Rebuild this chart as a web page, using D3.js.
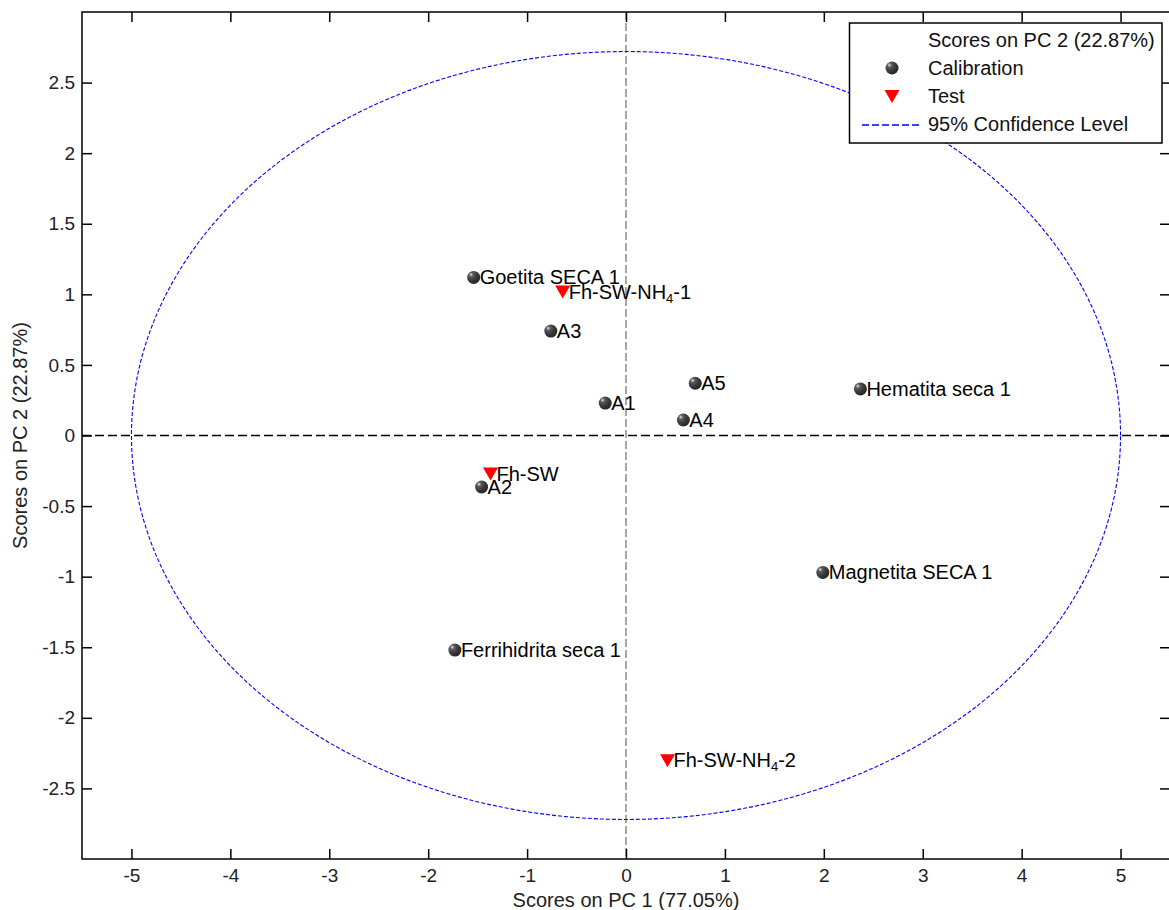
<!DOCTYPE html>
<html>
<head>
<meta charset="utf-8">
<script src="https://cdn.jsdelivr.net/npm/d3@7"></script>
<style>
  html, body { margin: 0; padding: 0; background: #fff; }
  svg { display: block; font-family: "Liberation Sans", Arial, sans-serif; }
</style>
</head>
<body>
<svg id="chart" width="1169" height="910"></svg>
<script>
// PCA scores: calibration samples
const calNames = ["Goetita SECA 1", "A3", "A1", "A5", "A4", "Hematita seca 1", "A2", "Magnetita SECA 1", "Ferrihidrita seca 1"];
const calPC1 = [-1.54, -0.76, -0.21, 0.70, 0.58, 2.37, -1.46, 1.99, -1.73];
const calPC2 = [1.12, 0.74, 0.23, 0.37, 0.11, 0.33, -0.365, -0.97, -1.52];

// PCA scores: test samples (label parts: [text, isSubscript])
const testNames = [
  [["Fh-SW-NH", false], ["4", true], ["-1", false]],
  [["Fh-SW", false]],
  [["Fh-SW-NH", false], ["4", true], ["-2", false]]
];
const testPC1 = [-0.64, -1.37, 0.42];
const testPC2 = [1.02, -0.27, -2.30];

// 95% confidence ellipse semi-axes
const ellipseAxes = [5.0, 2.72];

const xTicks = [-5, -4, -3, -2, -1, 0, 1, 2, 3, 4, 5];
const yTicks = [-2.5, -2, -1.5, -1, -0.5, 0, 0.5, 1, 1.5, 2, 2.5];
const xDomain = [-5.5, 5.5];
const yDomain = [-3, 3];

const xLabel = "Scores on PC 1 (77.05%)";
const yLabel = "Scores on PC 2 (22.87%)";
const legendItems = ["Scores on PC 2 (22.87%)", "Calibration", "Test", "95% Confidence Level"];

const svg = d3.select("#chart");
const pL = 82, pR = 1170, pT = 12, pB = 859;
const fontLabel = 20, fontTick = 19;

const x = d3.scaleLinear().domain(xDomain).range([pL, pR]);
const y = d3.scaleLinear().domain(yDomain).range([pB, pT]);

const defs = svg.append("defs");
const grad = defs.append("radialGradient").attr("id", "ball")
  .attr("cx", "30%").attr("cy", "28%").attr("r", "75%");
grad.append("stop").attr("offset", "0%").attr("stop-color", "#e6e6e6");
grad.append("stop").attr("offset", "22%").attr("stop-color", "#5c5c5c");
grad.append("stop").attr("offset", "60%").attr("stop-color", "#3a3a3a");
grad.append("stop").attr("offset", "100%").attr("stop-color", "#262626");

defs.append("clipPath").attr("id", "plotClip").append("rect")
  .attr("x", pL).attr("y", pT).attr("width", pR - pL).attr("height", pB - pT);

const plot = svg.append("g").attr("clip-path", "url(#plotClip)");

// zero reference lines
plot.append("line")
  .attr("x1", x(0)).attr("x2", x(0)).attr("y1", pT).attr("y2", pB)
  .attr("stroke", "#6e6e6e").attr("stroke-width", 1.2).attr("stroke-dasharray", "8,3");
plot.append("line")
  .attr("x1", pL).attr("x2", pR).attr("y1", y(0)).attr("y2", y(0))
  .attr("stroke", "#000").attr("stroke-width", 1.5).attr("stroke-dasharray", "9,4");

// confidence ellipse
const ellPts = d3.range(0, 361, 1).map(a => {
  const t = a * Math.PI / 180;
  return [ellipseAxes[0] * Math.cos(t), ellipseAxes[1] * Math.sin(t)];
});
plot.append("path")
  .attr("d", d3.line().x(d => x(d[0])).y(d => y(d[1]))(ellPts))
  .attr("fill", "none").attr("stroke", "#0000ff").attr("stroke-width", 1.1)
  .attr("stroke-dasharray", "4,2");

// axes frame with inward ticks on all sides
const tickLen = 10;
const fmt = d => String(d);   // plain hyphen-minus for negatives
svg.append("g").attr("transform", `translate(0,${pB})`)
  .call(d3.axisBottom(x).tickValues(xTicks).tickSizeInner(-tickLen).tickSizeOuter(0).tickPadding(10).tickFormat(fmt))
  .call(g => g.select(".domain").remove());
svg.append("g").attr("transform", `translate(0,${pT})`)
  .call(d3.axisTop(x).tickValues(xTicks).tickSizeInner(-tickLen).tickSizeOuter(0).tickFormat(""))
  .call(g => g.select(".domain").remove());
svg.append("g").attr("transform", `translate(${pL},0)`)
  .call(d3.axisLeft(y).tickValues(yTicks).tickSizeInner(-tickLen).tickSizeOuter(0).tickPadding(7).tickFormat(fmt))
  .call(g => g.select(".domain").remove());
svg.append("g").attr("transform", `translate(${pR},0)`)
  .call(d3.axisRight(y).tickValues(yTicks).tickSizeInner(-tickLen).tickSizeOuter(0).tickFormat(""))
  .call(g => g.select(".domain").remove());

svg.selectAll(".tick line").attr("stroke", "#000").attr("stroke-width", 1.5);
svg.selectAll(".tick text").attr("font-size", fontTick).attr("fill", "#222")
  .attr("font-family", "'Liberation Sans', Arial, sans-serif");

svg.append("rect").attr("x", pL).attr("y", pT)
  .attr("width", pR - pL).attr("height", pB - pT)
  .attr("fill", "none").attr("stroke", "#000").attr("stroke-width", 1.5);

// axis titles
svg.append("text").attr("x", x(0)).attr("y", 907).attr("text-anchor", "middle")
  .attr("font-size", fontLabel).attr("fill", "#222").text(xLabel);
svg.append("text").attr("transform", `translate(27,${y(0)}) rotate(-90)`)
  .attr("text-anchor", "middle").attr("font-size", fontLabel).attr("fill", "#222").text(yLabel);

// calibration markers and labels
const cal = calNames.map((n, i) => ({ name: n, px: calPC1[i], py: calPC2[i] }));
const test = testNames.map((n, i) => ({ parts: n, px: testPC1[i], py: testPC2[i] }));

svg.append("g").selectAll("circle").data(cal).join("circle")
  .attr("cx", d => x(d.px)).attr("cy", d => y(d.py)).attr("r", 6.5)
  .attr("fill", "url(#ball)");

// test markers (downward triangles)
const tri = 7.5;
svg.append("g").selectAll("path").data(test).join("path")
  .attr("d", d => {
    const cx = x(d.px), cy = y(d.py);
    return `M${cx - tri},${cy - 6}L${cx + tri},${cy - 6}L${cx},${cy + 7}Z`;
  })
  .attr("fill", "#ff0000");

svg.append("g").selectAll("text").data(cal).join("text")
  .attr("x", d => x(d.px) + 6).attr("y", d => y(d.py) + 7)
  .attr("font-size", fontLabel).attr("fill", "#000").text(d => d.name);

const tl = svg.append("g").selectAll("text").data(test).join("text")
  .attr("x", d => x(d.px) + 6).attr("y", d => y(d.py) + 7)
  .attr("font-size", fontLabel).attr("fill", "#000");
tl.each(function (d) {
  const t = d3.select(this);
  let prevSub = false;
  d.parts.forEach(([s, sub]) => {
    const sp = t.append("tspan").text(s);
    if (sub) sp.attr("font-size", 13).attr("dy", 4);
    else if (prevSub) sp.attr("dy", -4);
    prevSub = sub;
  });
});

// legend
const lg = svg.append("g");
lg.append("rect").attr("x", 849.5).attr("y", 23).attr("width", 312.5).attr("height", 120)
  .attr("fill", "#fff").attr("stroke", "#000").attr("stroke-width", 1.5);
const rowY = [40, 68, 96, 124];
lg.selectAll("text").data(legendItems).join("text")
  .attr("x", 928).attr("y", (d, i) => rowY[i] + 7)
  .attr("font-size", fontLabel).attr("fill", "#111").text(d => d);
lg.append("circle").attr("cx", 892).attr("cy", rowY[1]).attr("r", 6.5).attr("fill", "url(#ball)");
lg.append("path")
  .attr("d", `M${892 - tri},${rowY[2] - 6}L${892 + tri},${rowY[2] - 6}L892,${rowY[2] + 7}Z`)
  .attr("fill", "#ff0000");
lg.append("line").attr("x1", 862).attr("x2", 920).attr("y1", rowY[3] + 1).attr("y2", rowY[3] + 1)
  .attr("stroke", "#0000ff").attr("stroke-width", 1.3).attr("stroke-dasharray", "7,3");
</script>
</body>
</html>
